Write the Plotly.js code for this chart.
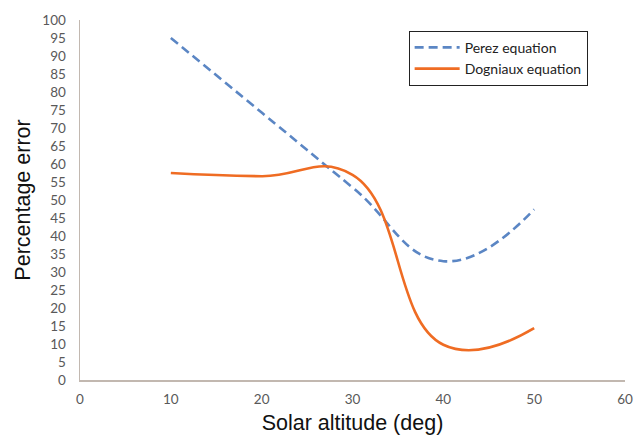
<!DOCTYPE html>
<html><head><meta charset="utf-8">
<script src="https://cdn.plot.ly/plotly-3.0.1.min.js"></script>
<style>html,body{margin:0;padding:0;background:#fff;}#chart{width:643px;height:435px;}</style>
</head><body><div id="chart"></div>
<script>
const altitude = [10, 20, 30, 40, 50];
const perez = [95, 74.3, 53.5, 33, 47.4];
const dogniaux = [57.5, 56.6, 57, 9.8, 14.4];
const xTicks = [0, 10, 20, 30, 40, 50, 60];
const yTicks = [0,5,10,15,20,25,30,35,40,45,50,55,60,65,70,75,80,85,90,95,100];

const traces = [
  {x: altitude, y: perez, name: 'Perez equation', mode: 'lines',
   line: {color: '#5b86c4', width: 2.6, dash: '9px,5px', shape: 'spline', smoothing: 1.3}},
  {x: altitude, y: dogniaux, name: 'Dogniaux equation', mode: 'lines',
   line: {color: '#ef6c23', width: 2.6, shape: 'spline', smoothing: 1.3}}
];

const tickFont = {family: 'Lato, "Open Sans", sans-serif', size: 13.5, color: '#595959'};
const titleFont = {family: '"Liberation Sans", Arial, sans-serif', size: 21.5, color: '#111'};
const layout = {
  width: 643, height: 435,
  margin: {l: 80, r: 18, t: 20, b: 55},
  paper_bgcolor: '#ffffff', plot_bgcolor: '#ffffff',
  showlegend: true,
  legend: {x: 0.603, y: 0.97, xanchor: 'left', yanchor: 'top',
    bordercolor: '#222', borderwidth: 1, bgcolor: '#fff', itemwidth: 45,
    font: {family: 'Lato, "Open Sans", sans-serif', size: 14, color: '#222'},
    tracegroupgap: 2},
  xaxis: {range: [0, 60], tickvals: xTicks, ticktext: xTicks.map(String),
    showgrid: false, zeroline: false, showline: true, linecolor: '#c2b8b0', linewidth: 1.5,
    ticks: '', tickfont: tickFont, fixedrange: true, ticklabelstandoff: 6,
    title: {text: 'Solar altitude (deg)', font: titleFont, standoff: 9}},
  yaxis: {range: [0, 100], tickvals: yTicks, ticktext: yTicks.map(String),
    showgrid: false, zeroline: false, showline: true, linecolor: '#c2b8b0', linewidth: 1.5,
    ticks: '', tickfont: tickFont, fixedrange: true, ticklabelstandoff: 10,
    title: {text: 'Percentage error', font: titleFont, standoff: 6}}
};
Plotly.newPlot('chart', traces, layout, {displayModeBar: false, staticPlot: true});
</script></body></html>
